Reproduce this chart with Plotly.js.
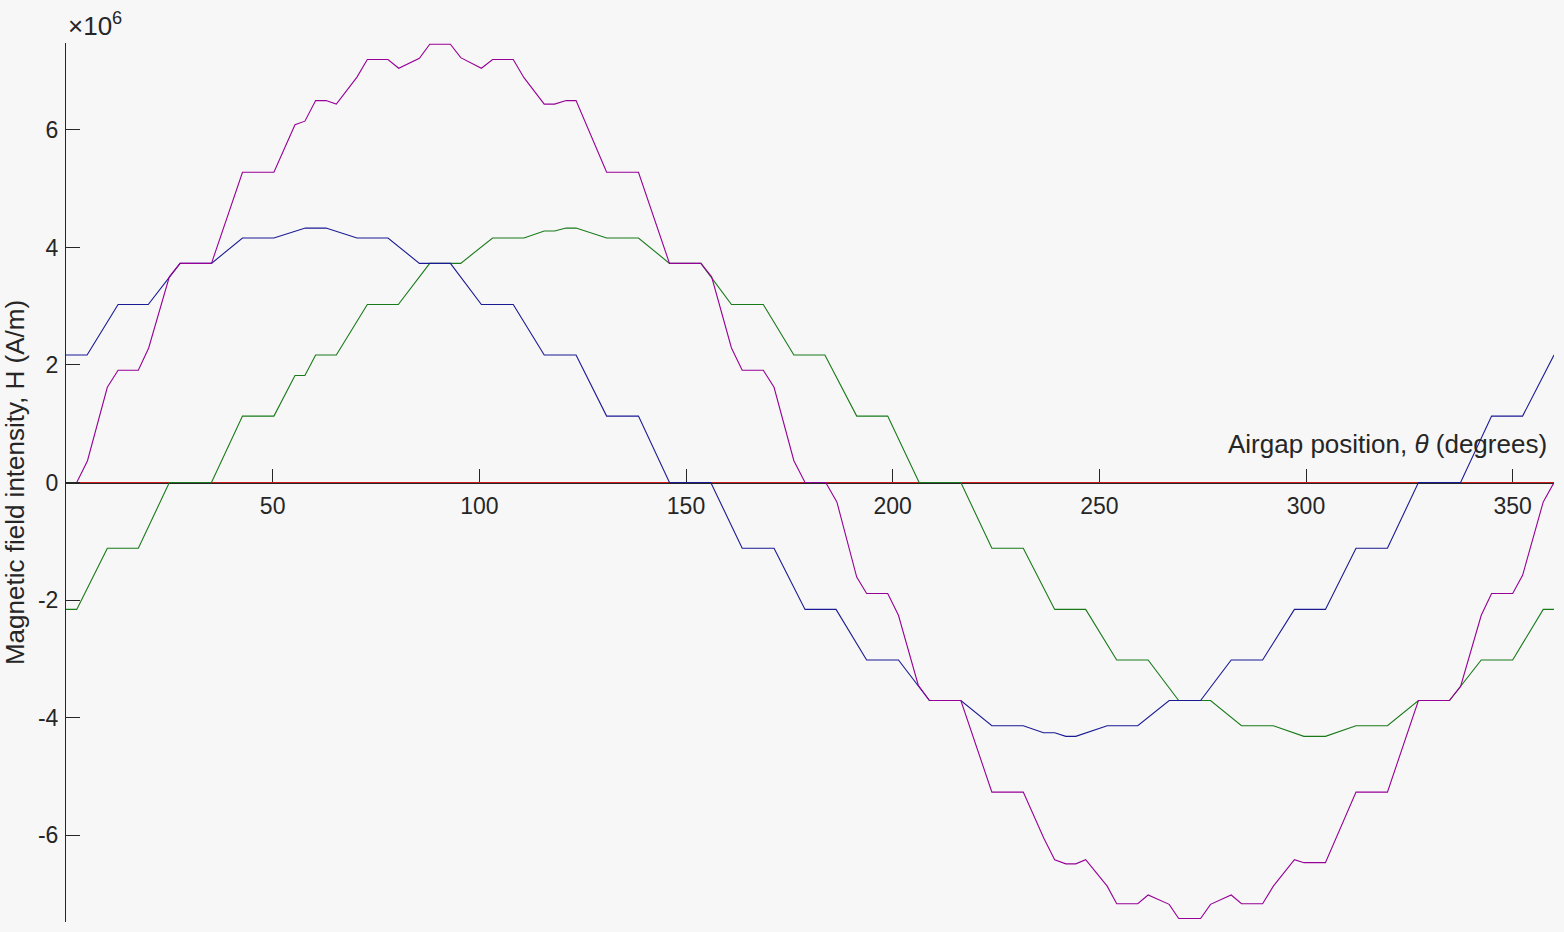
<!DOCTYPE html>
<html>
<head>
<meta charset="utf-8">
<script src="https://cdn.plot.ly/plotly-3.0.1.min.js"></script>
<style>
  html, body { margin: 0; padding: 0; background: #f7f7f7; }
  #chart { width: 1564px; height: 932px; }
</style>
</head>
<body>
<div id="chart"></div>
<script>
// Airgap position (degrees) and H in units of 1e6 A/m at each corner

// phase with no current, flat red line
var red_x = [0, 360]
var red_y = [0, 0]

var green_x = [0, 2.6, 10.0, 17.5, 25.0, 35.2, 42.7, 50.3, 55.4, 57.8, 60.4, 65.4, 72.9, 80.4, 88.0, 95.5,
  103.2, 110.8, 115.7, 118.2, 121.0, 123.4, 130.8, 138.5, 146.0, 153.6, 161.0, 168.7, 176.1, 183.6,
  191.3, 198.8, 206.4, 216.5, 224.0, 231.6, 239.2, 246.7, 254.2, 261.8, 269.2, 276.9, 284.4, 292.1,
  299.5, 304.7, 312.1, 319.7, 327.2, 334.7, 342.4, 350.0, 357.4, 360]
var green_y = [-2.16, -2.16, -1.12, -1.12, 0, 0, 1.13, 1.13, 1.82, 1.82, 2.17, 2.17, 3.03, 3.03, 3.73, 3.73,
  4.16, 4.16, 4.28, 4.28, 4.33, 4.33, 4.16, 4.16, 3.73, 3.73, 3.03, 3.03, 2.17, 2.17,
  1.13, 1.13, 0, 0, -1.12, -1.12, -2.16, -2.16, -3.02, -3.02, -3.71, -3.71, -4.14, -4.14,
  -4.32, -4.32, -4.14, -4.14, -3.71, -3.71, -3.02, -3.02, -2.16, -2.16]

var blue_x = [0, 5.1, 12.6, 19.9, 27.6, 35.2, 42.7, 50.3, 57.9, 62.9, 70.4, 77.9, 85.5, 93.0, 100.5,
  108.2, 115.7, 123.4, 130.8, 138.5, 146.0, 156.0, 163.6, 171.3, 178.8, 186.3, 193.7, 201.4,
  208.9, 216.5, 224.0, 231.6, 236.5, 239.2, 241.9, 244.3, 251.9, 259.3, 266.9, 274.5, 281.9,
  289.5, 297.2, 304.7, 312.1, 319.7, 327.2, 337.4, 344.9, 352.4, 360]
var blue_y = [2.17, 2.17, 3.03, 3.03, 3.73, 3.73, 4.16, 4.16, 4.33, 4.33, 4.16, 4.16, 3.73, 3.73, 3.03,
  3.03, 2.17, 2.17, 1.13, 1.13, 0, 0, -1.12, -1.12, -2.16, -2.16, -3.02, -3.02,
  -3.71, -3.71, -4.14, -4.14, -4.26, -4.26, -4.32, -4.32, -4.14, -4.14, -3.71, -3.71, -3.02,
  -3.02, -2.16, -2.16, -1.12, -1.12, 0, 0, 1.13, 1.13, 2.17]

var purple_x = [0, 2.6, 5.2, 10.0, 12.6, 17.5, 20.0, 25.0, 27.6, 35.2, 42.7, 50.3, 55.4, 57.8, 60.4,
  62.9, 65.4, 70.4, 72.9, 77.9, 80.5, 85.5, 88.0, 93.0, 95.5, 100.5, 103.2, 108.2, 110.8, 115.7,
  118.2, 121.0, 123.4, 130.8, 138.5, 146.0, 153.6, 156.2, 161.0, 163.6, 168.7, 171.3, 176.1,
  178.8, 183.8, 186.5, 191.3, 193.7, 198.8, 201.4, 206.2, 208.9, 216.5, 224.0, 231.6, 236.6,
  239.2, 241.9, 244.3, 246.7, 251.9, 254.2, 259.3, 261.8, 266.9, 269.2, 274.5, 276.9, 281.9,
  284.4, 289.5, 292.1, 297.2, 299.5, 304.7, 312.1, 319.7, 327.2, 334.7, 337.4, 342.4, 344.9,
  350.0, 352.4, 357.4, 360]
var purple_y = [0, 0, 0.37, 1.62, 1.91, 1.91, 2.29, 3.50, 3.73, 3.73, 5.28, 5.28, 6.09, 6.15, 6.50,
  6.50, 6.44, 6.90, 7.20, 7.20, 7.05, 7.22, 7.46, 7.46, 7.23, 7.05, 7.20, 7.20, 6.89, 6.44,
  6.44, 6.50, 6.50, 5.28, 5.28, 3.73, 3.73, 3.50, 2.29, 1.91, 1.91, 1.62, 0.37,
  0, 0, -0.33, -1.61, -1.89, -1.89, -2.26, -3.45, -3.71, -3.71, -5.27, -5.27, -6.06,
  -6.42, -6.49, -6.49, -6.42, -6.87, -7.17, -7.17, -7.02, -7.18, -7.42, -7.42, -7.18, -7.02,
  -7.17, -7.17, -6.87, -6.42, -6.47, -6.47, -5.27, -5.27, -3.71, -3.71, -3.47, -2.26, -1.89,
  -1.89, -1.58, -0.33, 0]

var x_ticks = [50, 100, 150, 200, 250, 300, 350]
var y_ticks = [-6, -4, -2, 0, 2, 4, 6]
var y_tick_text = ['-6', '-4', '-2', '0', '2', '4', '6']

var ink = '#262626'
var font_name = 'Liberation Sans, Arial, sans-serif'

function line_trace(xs, ys, color) {
  return {
    x: xs,
    y: ys,
    mode: 'lines',
    type: 'scatter',
    line: {color: color, width: 1.1},
    hoverinfo: 'x+y',
    showlegend: false
  }
}

var chart_data = [
  line_trace(red_x, red_y, '#cc1a1a'),
  line_trace(green_x, green_y, '#187a18'),
  line_trace(blue_x, blue_y, '#1a1a94'),
  line_trace(purple_x, purple_y, '#960096')
]

var chart_layout = {
  width: 1564,
  height: 932,
  margin: {l: 66, r: 10, t: 43, b: 10},
  paper_bgcolor: '#f7f7f7',
  plot_bgcolor: '#f7f7f7',
  font: {family: font_name, size: 23, color: ink},
  xaxis: {
    range: [0, 360],
    anchor: 'free',
    position: 0.5,
    layer: 'below traces',
    showline: true,
    linecolor: ink,
    linewidth: 1,
    showgrid: false,
    zeroline: false,
    ticks: 'inside',
    ticklen: 14,
    tickwidth: 1,
    tickcolor: ink,
    tickvals: x_ticks,
    ticklabelstandoff: 3,
    tickfont: {size: 23, color: ink}
  },
  yaxis: {
    range: [-7.48, 7.48],
    showline: true,
    linecolor: ink,
    linewidth: 1,
    showgrid: false,
    zeroline: false,
    ticks: 'inside',
    ticklen: 14,
    tickwidth: 1,
    tickcolor: ink,
    tickvals: y_ticks,
    ticktext: y_tick_text,
    ticklabelstandoff: 2,
    tickfont: {size: 23, color: ink},
    title: {
      text: 'Magnetic field intensity, H (A/m)',
      font: {size: 26, color: ink},
      standoff: 6
    }
  },
  annotations: [
    {
      text: 'Airgap position, <i>θ</i> (degrees)',
      xref: 'x', yref: 'y',
      x: 358.8, y: 0,
      xanchor: 'right', yanchor: 'bottom',
      yshift: 22,
      showarrow: false,
      font: {size: 26, color: ink}
    },
    {
      text: '×10<sup>6</sup>',
      xref: 'paper', yref: 'paper',
      x: 0, y: 1,
      xanchor: 'left', yanchor: 'bottom',
      showarrow: false,
      font: {size: 26, color: ink}
    }
  ]
}

Plotly.newPlot('chart', chart_data, chart_layout, {displayModeBar: false})
</script>
</body>
</html>
